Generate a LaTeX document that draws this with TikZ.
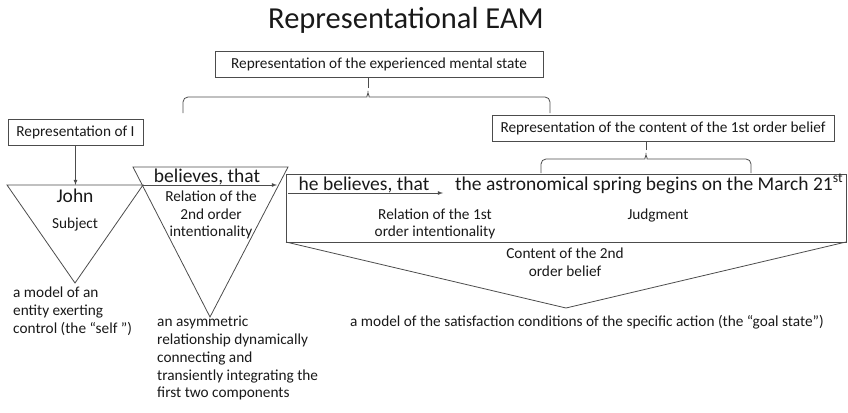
\documentclass[tikz,border=0pt]{standalone}
\usepackage{fontspec}
\setmainfont{Carlito}

\begin{document}
\begin{tikzpicture}[x=1pt,y=-1pt,
        line/.style={draw=black!70,line width=0.8pt},
        small/.style={font=\fontsize{15.3}{17.8}\selectfont,inner sep=0pt,text=black!90},
        large/.style={font=\fontsize{19.5}{22}\selectfont,inner sep=0pt,text=black!90},
        labelbox/.style={line,font=\fontsize{15.3}{17.8}\selectfont,text=black!90,minimum height=26pt,inner sep=0pt}]
    \useasboundingbox (0,0) rectangle (848,412);

    \node(title)[font=\fontsize{30.5}{34}\selectfont,inner sep=0pt,anchor=base,text=black!90] at (406,29) {Representational EAM};

    % boxes
    \draw
        (379,64.5) node(repstate)[labelbox,minimum width=328pt] {Representation of the experienced mental state}
        (75.5,132.5) node(repI)[labelbox,minimum width=135pt] {Representation of I}
        (663,128.5) node(repcontent)[labelbox,minimum width=342pt] {Representation of the content of the 1st order belief};

    % braces
    \coordinate (tipstate) at (368,88);
    \coordinate (tipcontent) at (646,150);
    \draw[line,rounded corners=5pt] (183,113) -- (183,97) -- (362,97)
        .. controls (366,97) and (368,94) .. (tipstate)
        .. controls (368,94) and (370,97) .. (374,97) -- (550,97) -- (550,113);
    \draw[line,rounded corners=5pt] (541,173) -- (541,159) -- (640,159)
        .. controls (644,159) and (646,156) .. (tipcontent)
        .. controls (646,156) and (648,159) .. (652,159) -- (751,159) -- (751,173);
    \draw[line] (tipstate) -- (tipstate |- repstate.south);
    \draw[line] (tipcontent) -- (tipcontent |- repcontent.south);

    % triangles
    \coordinate (johnL) at (7,185);
    \coordinate (johnT) at (75.5,185);
    \coordinate (johnR) at (143,185);
    \coordinate (believesend) at (277,185);
    \coordinate (heL) at (288,193);
    \coordinate (heR) at (443,193);
    \draw[line] (johnL) -- (johnR) -- (75,283) -- cycle;
    \draw[line] (133,167) -- (288,167) -- (210,317) -- cycle;
    \draw[line] (286,174) rectangle (846,242);
    \draw[line] (286,242) -- (566,308) -- (846,242);

    % arrows
    \draw[line,-latex] (repI) -- (johnT);
    \draw[line,-latex] (johnR) -- (believesend);
    \draw[line,-latex] (heL) -- (heR);

    % labels
    \draw
        (75,202) node(john)[large,anchor=base] {John}
        (75,228) node(subject)[small,anchor=base] {Subject}
        (207,182) node(believes)[large,anchor=base] {believes, that}
        (211,215) node(rel2)[small,align=center] {Relation of the\\2nd order\\intentionality}
        (364,190) node(hebelieves)[large,anchor=base] {he believes, that}
        (455,190) node(spring)[large,anchor=base west] {the astronomical spring begins on the March 21\textsuperscript{st}}
        (435,224) node(rel1)[small,align=center] {Relation of the 1st\\order intentionality}
        (658,219) node(judgment)[small,anchor=base] {Judgment}
        (565,262) node(content2)[small,align=center] {Content of the 2nd\\order belief}
        (587,326) node(goal)[small,anchor=base] {a model of the satisfaction conditions of the specific action (the “goal state”)}
        (13,287) node(self)[small,align=left,anchor=north west] {a model of an\\entity exerting\\control (the “self ”)}
        (157,316) node(asym)[small,align=left,anchor=north west] {an asymmetric\\relationship dynamically\\connecting and\\transiently integrating the\\first two components};
\end{tikzpicture}
\end{document}
